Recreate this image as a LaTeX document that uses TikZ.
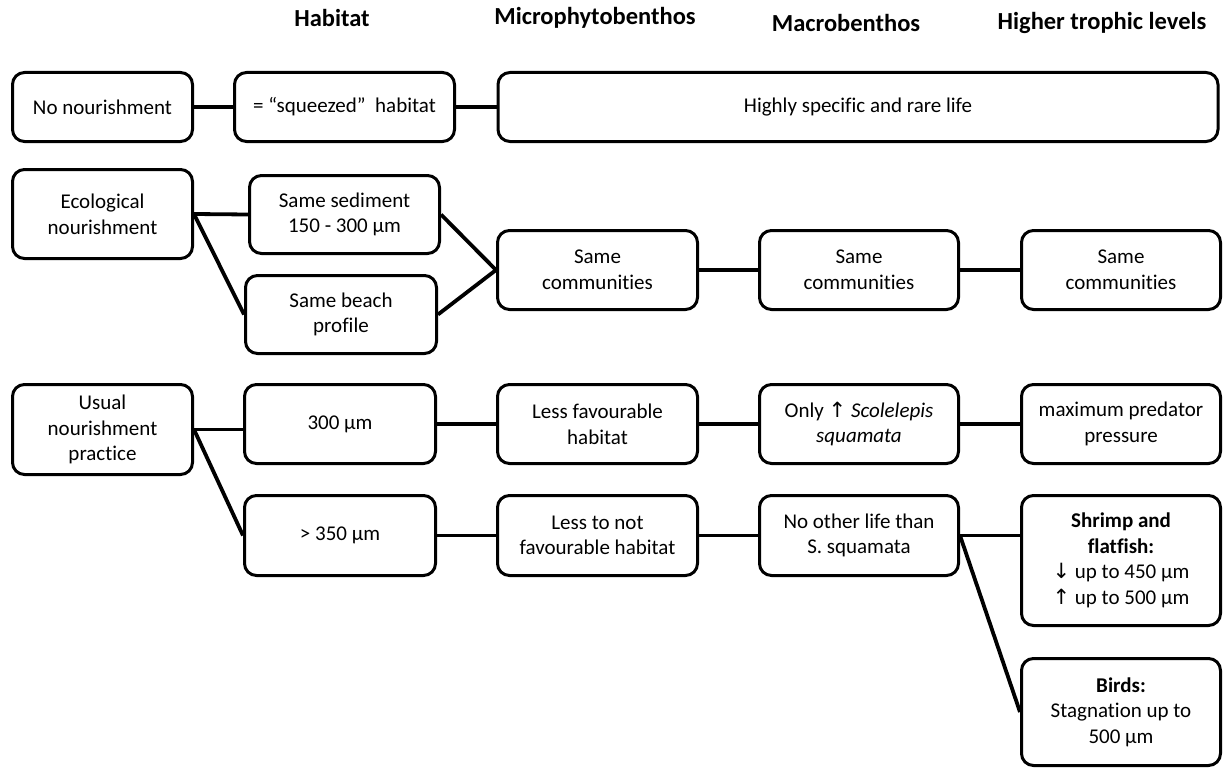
\documentclass[tikz,border=0pt]{standalone}
\usepackage{fontspec}
\setmainfont[Ligatures=NoCommon]{Carlito}
\newfontfamily\arrowfont{DejaVu Sans}
\newcommand{\arrup}{{\arrowfont\char"2191}}
\newcommand{\arrdown}{{\arrowfont\char"2193}}

\begin{document}
\begin{tikzpicture}[x=1pt,y=-1pt,
  box/.style={draw,line width=3pt,rounded corners=12pt,align=center,inner sep=2pt,
    font=\fontsize{21}{25.6}\selectfont},
  wh/.style 2 args={minimum width=#1,minimum height=#2},
  head/.style={font=\fontsize{24.5}{29}\selectfont\bfseries},
  link/.style={line width=3.8pt}]

\useasboundingbox (0,0) rectangle (1224,768);

% Column heads
\node[head] (hhab) at (332,18) {Habitat};
\node[head] (hmicro) at (595,18) {Microphytobenthos};
\node[head] (hmacro) at (846,23) {Macrobenthos};
\node[head] (hhigh) at (1102,23) {Higher trophic levels};

% No nourishment
\node[box,wh={180pt}{69pt}] (nonour) at (102.5,107) {No nourishment};
\node[box,wh={220pt}{69pt}] (squeezed) at (344.5,107) {= “squeezed”\ \ habitat};
\node[box,wh={720pt}{69pt}] (rare) at (858,107) {Highly specific and rare life};

% Ecological nourishment
\node[box,wh={180pt}{89pt}] (econour) at (102.5,214) {Ecological\\nourishment};
\node[box,wh={190pt}{78pt}] (sediment) at (344.5,214.5) {Same sediment\\150 - 300 µm};
\node[box,wh={191pt}{78pt}] (profile) at (341,314.5) {Same beach\\profile};
\node[box,wh={200pt}{79pt}] (microsame) at (597.5,270) {Same\\communities};
\node[box,wh={199pt}{79pt}] (macrosame) at (859,270) {Same\\communities};
\node[box,wh={199pt}{79pt}] (highsame) at (1121,270) {Same\\communities};

% Usual nourishment practice
\node[box,wh={180pt}{90pt}] (usual) at (102.5,429.5) {Usual\\nourishment\\practice};
\node[box,wh={191pt}{79pt}] (grain300) at (340,424) {300 µm};
\node[box,wh={191pt}{80pt}] (grain350) at (340,535.5) {> 350 µm};
\node[box,wh={200pt}{79pt}] (lessfav) at (597.5,424) {Less favourable\\habitat};
\node[box,wh={200pt}{80pt}] (lessnot) at (597.5,535.5) {Less to not\\favourable habitat};
\node[box,wh={199pt}{79pt}] (scolelepis) at (859,424) {Only \arrup{} \textit{Scolelepis}\\\textit{squamata}};
\node[box,wh={199pt}{80pt}] (noother) at (859,535.5) {No other life than\\S. squamata};
\node[box,wh={199pt}{79pt}] (predator) at (1121,424) {maximum predator\\pressure};
\node[box,wh={199pt}{130pt}] (shrimp) at (1121,560.5) {\textbf{Shrimp and}\\\textbf{flatfish:}\\\arrdown{} up to 450 µm\\\arrup{} up to 500 µm};
\node[box,wh={199pt}{107pt}] (birds) at (1121,712) {\textbf{Birds:}\\Stagnation up to\\500 µm};

% Connectors
\draw[link] (nonour) -- (squeezed);
\draw[link] (squeezed) -- (rare);
\draw[link] (econour.east) -- (sediment.west);
\draw[link] (econour.east) -- (profile.west);
\draw[link] (sediment.east) -- (microsame.west);
\draw[link] (profile.east) -- (microsame.west);
\draw[link] (microsame) -- (macrosame);
\draw[link] (macrosame) -- (highsame);
\draw[link] (usual.east) -- (usual.east -| grain300.west);
\draw[link] (usual.east) -- (grain350.west);
\draw[link] (grain300) -- (lessfav);
\draw[link] (lessfav) -- (scolelepis);
\draw[link] (scolelepis) -- (predator);
\draw[link] (grain350) -- (lessnot);
\draw[link] (lessnot) -- (noother);
\draw[link] (noother.east) -- (noother.east -| shrimp.west);
\draw[link] (noother.east) -- (birds.west);

\end{tikzpicture}
\end{document}
